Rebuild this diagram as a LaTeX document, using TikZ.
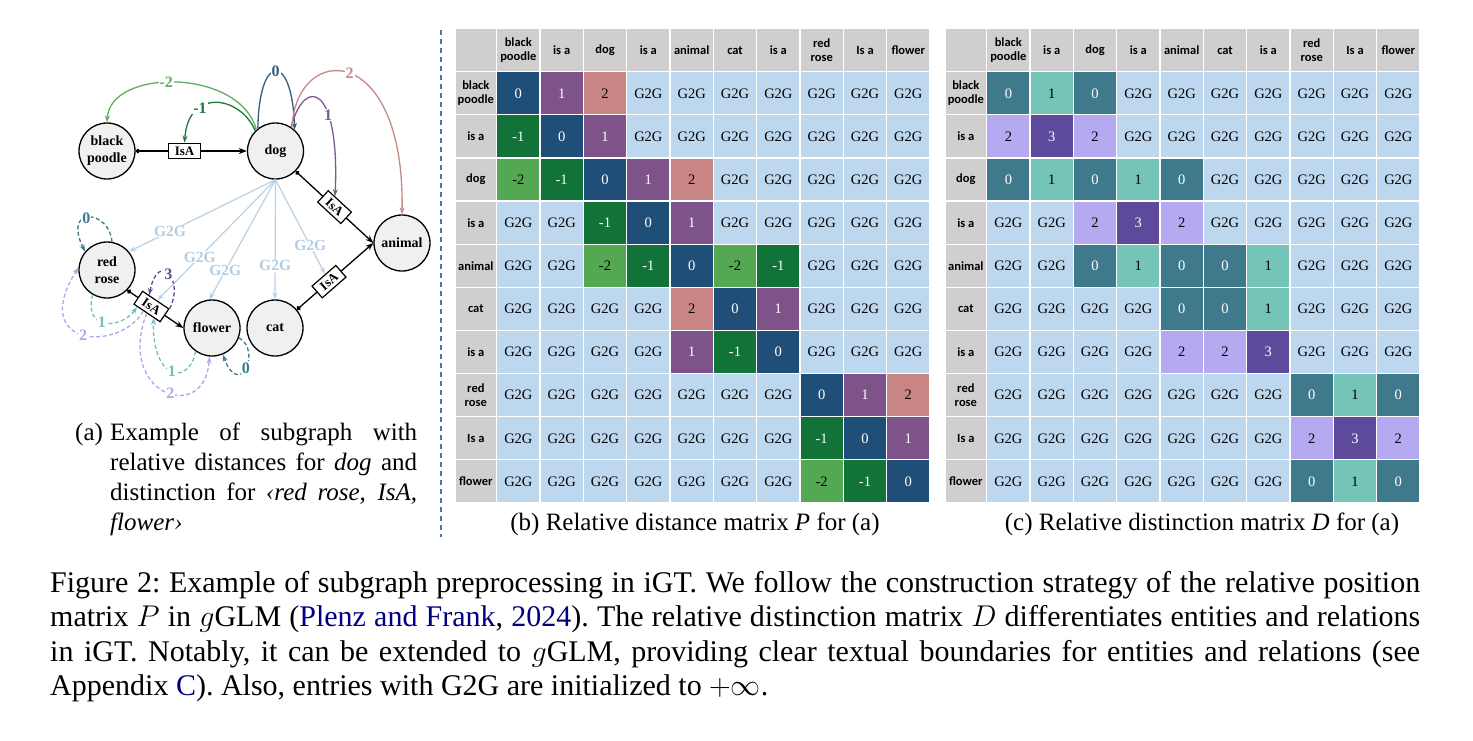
\RequirePackage{fix-cm}
\documentclass[tikz,border=0pt]{standalone}
\usepackage{fontspec}
\setmainfont{Liberation Serif}
\newfontfamily\hdrfont{Carlito}
\usetikzlibrary{arrows.meta,calc}
\definecolor{hdrgray}{HTML}{D0CECE}
\definecolor{gtg}{HTML}{BDD7EE}
\definecolor{pzero}{HTML}{1F4E79}
\definecolor{pone}{HTML}{7E5389}
\definecolor{ptwo}{HTML}{C98584}
\definecolor{pmone}{HTML}{127338}
\definecolor{pmtwo}{HTML}{55A852}
\definecolor{dzero}{HTML}{3E7A8C}
\definecolor{done}{HTML}{74C4B8}
\definecolor{dtwo}{HTML}{B5A9F2}
\definecolor{dthree}{HTML}{5D4A9C}
\definecolor{gline}{HTML}{B9D1E7}
\definecolor{gtext}{HTML}{B3CCE3}
\definecolor{sepblue}{HTML}{4A72C0}
\definecolor{linkblue}{rgb}{0,0,0.5}
\definecolor{nodefill}{HTML}{F0F0F0}
\definecolor{azero}{HTML}{2F5E7E}
\definecolor{aone}{HTML}{7B5A92}
\definecolor{atwo}{HTML}{C48B86}
\definecolor{amone}{HTML}{1D7A40}
\definecolor{amtwo}{HTML}{62AD5E}
\definecolor{lzero}{HTML}{3E7A8C}
\definecolor{lone}{HTML}{6FC3B5}
\definecolor{ltwo}{HTML}{B3A3EC}
\definecolor{lthree}{HTML}{5C4E95}
\newcommand\hdrlist{{black\\poodle},{is a},{dog},{is a},{animal},{cat},{is a},{red\\rose},{Is a},{flower}}
\newcommand\matrixat[4]{%
  \node[hdr,minimum width=41.7pt] (#2corner) at ({#1+20.85},50.1) {};
  \foreach \hh [count=\ii] in \hdrlist {
    \node[hdr,minimum width=43.33pt] (#2h\ii) at ({#1+41.7+(\ii-0.5)*43.33},50.1) {\hh};
    \node[hdr,minimum width=41.7pt] (#2r\ii) at ({#1+20.85},{71.7+(\ii-0.5)*43.13}) {\hh};
  }
  \foreach \row [count=\rr] in {#4} {
    \foreach \vv [count=\cc] in \row {
      \node[cell,#3\vv] (#2\rr-\cc) at ({#1+41.7+(\cc-0.5)*43.33},{71.7+(\rr-0.5)*43.13}) {\vv};
    }
  }
}
\begin{document}
\begin{tikzpicture}[x=1pt,y=-1pt,
  ent/.style={circle,draw,line width=1.3pt,fill=nodefill,minimum size=56pt,inner sep=0pt,align=center,font=\fontsize{14}{17}\selectfont\bfseries},
  isabox/.style={draw,line width=1.2pt,fill=white,inner xsep=6pt,inner ysep=1.5pt,minimum height=15.5pt,font=\fontsize{13}{13}\selectfont\bfseries},
  rel/.style={line width=1.3pt,{Circle[length=4.5pt]}-{Stealth[length=8pt,width=6pt]}},
  carr/.style={line width=1.3pt,-{Stealth[length=7pt,width=5pt]}},
  darr/.style={carr,dash pattern=on 4pt off 2.5pt},
  lbl/.style={fill=white,inner sep=1pt,font=\fontsize{16}{16}\selectfont\bfseries},
  g2g/.style={line width=1.2pt,gline,-{Stealth[length=7pt,width=5pt]}},
  g2glbl/.style={fill=white,inner sep=0.5pt,text=gtext,font=\fontsize{15.5}{15.5}\selectfont\bfseries},
  hdr/.style={fill=hdrgray,draw=white,line width=1.2pt,minimum height=43.2pt,inner sep=0pt,align=center,font=\hdrfont\bfseries\fontsize{12.5}{13.5}\selectfont},
  cell/.style={draw=white,line width=1.2pt,minimum width=43.33pt,minimum height=43.13pt,inner sep=0pt,font=\fontsize{14.5}{15}\selectfont},
  P0/.style={fill=pzero,text=white},
  P1/.style={fill=pone,text=white},
  P2/.style={fill=ptwo,text=black},
  P-1/.style={fill=pmone,text=white},
  P-2/.style={fill=pmtwo,text=black},
  PG2G/.style={fill=gtg,text=black},
  D0/.style={fill=dzero,text=white},
  D1/.style={fill=done,text=black},
  D2/.style={fill=dtwo,text=black},
  D3/.style={fill=dthree,text=white},
  DG2G/.style={fill=gtg,text=black},
  figcap/.style={anchor=base west,inner sep=0pt,font=\fontsize{30}{34.5}\selectfont\frenchspacing},
  subcap/.style={anchor=base west,inner sep=0pt,font=\fontsize{25}{30}\selectfont},
  sepline/.style={sepblue,line width=1.2pt,dash pattern=on 5pt off 4pt}
]
\fill[white] (0,0) rectangle (1473,740);
\useasboundingbox (0,0) rectangle (1473,740);

% ---------- graph (a) ----------
\node[ent] (bp) at (107,151) {black\\poodle};
\node[ent] (dog) at (275.5,151) {dog};
\node[ent] (animal) at (402,243) {animal};
\node[ent] (rose) at (107,270) {red\\rose};
\node[ent] (flower) at (212,328) {flower};
\node[ent] (cat) at (275,328) {cat};

\draw[rel] (bp.east) -- node[isabox,sloped,pos=0.44] (isa1) {IsA} (dog.west);
\draw[rel] (dog.-45) -- node[isabox,sloped,pos=0.5] (isa2) {IsA} (animal.west);
\draw[rel] (cat.40) -- node[isabox,sloped,pos=0.42] (isa3) {IsA} (animal.west);
\draw[rel] (rose.-45) -- node[isabox,sloped,pos=0.43] (isa4) {IsA} (flower.west);

% G2G connectors
\draw[g2g] (dog.south) -- node[g2glbl,pos=0.72] {G2G} (rose.40);
\draw[g2g] (dog.south) -- node[g2glbl,pos=0.64] {G2G} (isa4);
\draw[g2g] (dog.south) -- node[g2glbl,pos=0.76] {G2G} (flower.95);
\draw[g2g] (dog.south) -- node[g2glbl,pos=0.72] {G2G} (cat.north);
\draw[g2g] (dog.south) -- node[g2glbl,pos=0.7] {G2G} (isa3);

% relative distances for dog
\draw[carr,azero] (dog.128) .. controls (259,52) and (292,52) .. (dog.48) node[lbl,pos=0.5,text=azero] {0};
\draw[carr,amtwo] (dog.132) .. controls (240,68) and (110,68) .. (bp.north) node[lbl,pos=0.55,text=amtwo] {-2};
\draw[carr,amone] (dog.135) .. controls (240,95) and (188,88) .. (isa1.north) node[lbl,pos=0.68,text=amone] {-1};
\draw[carr,aone] (dog.57) .. controls (305,75) and (340,85) .. (isa2) node[lbl,pos=0.65,text=aone] {1};
\draw[carr,atwo] (dog.55) .. controls (296,42) and (405,40) .. (animal.north) node[lbl,pos=0.5,text=atwo] {2};

% distinction for <red rose, IsA, flower>
\draw[darr,lzero] (rose.80) .. controls (110,210) and (62,205) .. (rose.140) node[lbl,pos=0.55,text=lzero] {0};
\draw[darr,lthree] (isa4.north east) .. controls (185,280) and (158,250) .. ($(isa4.north west)!0.5!(isa4.north)$) node[lbl,pos=0.5,text=lthree] {3};
\draw[darr,lone] (rose.240) .. controls (83,330) and (120,330) .. ($(isa4.south west)!0.3!(isa4.south)$) node[lbl,pos=0.45,text=lone] {1};
\draw[darr,ltwo] ($(isa4.south west)!0.75!(isa4.south)$) .. controls (120,352) and (28,348) .. (rose.175) node[lbl,pos=0.5,text=ltwo] {2};
\draw[darr,lone] (flower.235) .. controls (190,385) and (152,382) .. ($(isa4.south)!0.5!(isa4.south east)$) node[lbl,pos=0.5,text=lone] {1};
\draw[darr,ltwo] (isa4.south) .. controls (115,395) and (205,425) .. (flower.265) node[lbl,pos=0.55,text=ltwo] {2};
\draw[darr,lzero] (flower.-20) .. controls (262,350) and (240,400) .. (flower.-68) node[lbl,pos=0.5,text=lzero] {0};

% caption (a)
\node[subcap] (capa0) at (75,440) {(a)};
\node[subcap] (capa1) at (110,440) {\makebox[307pt][s]{Example of subgraph with}};
\node[subcap] (capa2) at (110,470) {\makebox[307pt][s]{relative distances for \textit{dog} and}};
\node[subcap] (capa3) at (110,500) {\makebox[307pt][s]{distinction for \textit{‹red rose, IsA,}}};
\node[subcap] (capa4) at (110,530) {\textit{flower›}};

% separator
\coordinate (septop) at (441,30);
\coordinate (sepbot) at (441,537);
\draw[sepline] (septop) -- (sepbot);

% ---------- matrix P ----------
\matrixat{455}{b}{P}{{0,1,2,G2G,G2G,G2G,G2G,G2G,G2G,G2G},
{-1,0,1,G2G,G2G,G2G,G2G,G2G,G2G,G2G},
{-2,-1,0,1,2,G2G,G2G,G2G,G2G,G2G},
{G2G,G2G,-1,0,1,G2G,G2G,G2G,G2G,G2G},
{G2G,G2G,-2,-1,0,-2,-1,G2G,G2G,G2G},
{G2G,G2G,G2G,G2G,2,0,1,G2G,G2G,G2G},
{G2G,G2G,G2G,G2G,1,-1,0,G2G,G2G,G2G},
{G2G,G2G,G2G,G2G,G2G,G2G,G2G,0,1,2},
{G2G,G2G,G2G,G2G,G2G,G2G,G2G,-1,0,1},
{G2G,G2G,G2G,G2G,G2G,G2G,G2G,-2,-1,0}}
\node[subcap,anchor=base] (capb) at (695,530) {(b) Relative distance matrix \textit{P} for (a)};

% ---------- matrix D ----------
\matrixat{945}{c}{D}{{0,1,0,G2G,G2G,G2G,G2G,G2G,G2G,G2G},
{2,3,2,G2G,G2G,G2G,G2G,G2G,G2G,G2G},
{0,1,0,1,0,G2G,G2G,G2G,G2G,G2G},
{G2G,G2G,2,3,2,G2G,G2G,G2G,G2G,G2G},
{G2G,G2G,0,1,0,0,1,G2G,G2G,G2G},
{G2G,G2G,G2G,G2G,0,0,1,G2G,G2G,G2G},
{G2G,G2G,G2G,G2G,2,2,3,G2G,G2G,G2G},
{G2G,G2G,G2G,G2G,G2G,G2G,G2G,0,1,0},
{G2G,G2G,G2G,G2G,G2G,G2G,G2G,2,3,2},
{G2G,G2G,G2G,G2G,G2G,G2G,G2G,0,1,0}}
\node[subcap,anchor=base] (capc) at (1202,530) {(c) Relative distinction matrix \textit{D} for (a)};

% ---------- figure caption ----------
\node[figcap] (cap1) at (50,592) {\makebox[1370pt][s]{Figure 2: Example of subgraph preprocessing in iGT. We follow the construction strategy of the relative position}};
\node[figcap] (cap2) at (50,626.5) {\makebox[1370pt][s]{matrix $P$ in $g$GLM (\textcolor{linkblue}{Plenz and Frank}, \textcolor{linkblue}{2024}). The relative distinction matrix $D$ differentiates entities and relations}};
\node[figcap] (cap3) at (50,661) {\makebox[1370pt][s]{in iGT. Notably, it can be extended to $g$GLM, providing clear textual boundaries for entities and relations (see}};
\node[figcap] (cap4) at (50,695.5) {Appendix \textcolor{linkblue}{C}). Also, entries with G2G are initialized to $+\infty$.};
\end{tikzpicture}
\end{document}
